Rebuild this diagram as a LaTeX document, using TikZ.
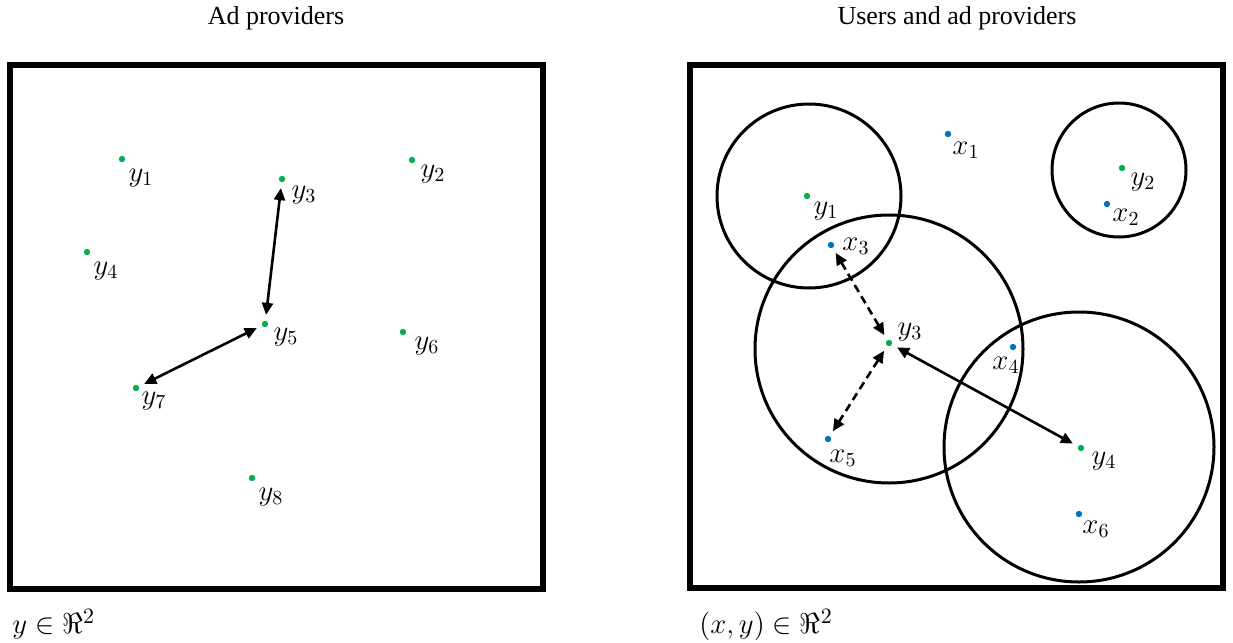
\documentclass[tikz,border=0pt]{standalone}
\usepackage{amsmath,amssymb}
\usepackage{fontspec}
\setmainfont{Liberation Serif}
\usetikzlibrary{arrows.meta, positioning}
\definecolor{provgreen}{RGB}{0,176,80}
\definecolor{userblue}{RGB}{0,112,192}

\begin{document}
\begin{tikzpicture}[x=0.5pt, y=-0.5pt,
    every node/.style={font=\fontsize{13}{15}\selectfont},
    ydot/.style={circle, fill=provgreen, inner sep=0pt, minimum size=3.2pt, outer sep=3pt},
    xdot/.style={circle, fill=userblue, inner sep=0pt, minimum size=3.2pt, outer sep=3pt},
    lbl/.style={inner sep=0pt, font=\fontsize{14}{16}\selectfont},
    boxline/.style={line width=2.6pt},
    reach/.style={line width=1.5pt},
    link/.style={line width=1.3pt, {Triangle[length=6pt,width=5.5pt]}-{Triangle[length=6pt,width=5.5pt]}},
    dlink/.style={link, dash pattern=on 4pt off 2.5pt}]
    \useasboundingbox (0,0) rectangle (1233,643);

    % titles and frames
    \node (tleft) at (276,18) {Ad providers};
    \node (tright) at (957,18) {Users and ad providers};
    \draw[boxline] (10,65) rectangle (543,589);
    \draw[boxline] (690,65) rectangle (1223,588);
    \node[lbl, anchor=west, font=\fontsize{15}{17}\selectfont] (sleft) at (12,624) {$y \in \Re^2$};
    \node[lbl, anchor=west, font=\fontsize{15}{17}\selectfont] (sright) at (699,625) {$(x,y) \in \Re^2$};

    % left: ad providers
    \node[ydot] (a1) at (122,159) {};
    \node[ydot] (a2) at (412,160) {};
    \node[ydot] (a3) at (282,179) {};
    \node[ydot] (a4) at (87,252) {};
    \node[ydot] (a5) at (265,324) {};
    \node[ydot] (a6) at (403,332) {};
    \node[ydot] (a7) at (136,388) {};
    \node[ydot] (a8) at (252,478) {};
    \node[lbl] (la1) at (141,178) {$y_1$};
    \node[lbl] (la2) at (433,174) {$y_2$};
    \node[lbl] (la3) at (304,195) {$y_3$};
    \node[lbl] (la4) at (106,271) {$y_4$};
    \node[lbl] (la5) at (286,337) {$y_5$};
    \node[lbl] (la6) at (427,346) {$y_6$};
    \node[lbl] (la7) at (154,401) {$y_7$};
    \node[lbl] (la8) at (271,497) {$y_8$};
    \draw[link] (a3) -- (a5);
    \draw[link] (a5) -- (a7);

    % right: ranges
    \draw[reach] (809,196) circle (92);
    \draw[reach] (1119,170) circle (67);
    \draw[reach] (889,349) circle (134);
    \draw[reach] (1079,447) circle (135);

    % right: users and ad providers
    \node[ydot] (b1) at (807,196) {};
    \node[ydot] (b2) at (1122,168) {};
    \node[ydot] (b3) at (889,343) {};
    \node[ydot] (b4) at (1081,448) {};
    \node[xdot] (u1) at (948,134) {};
    \node[xdot] (u2) at (1107,204) {};
    \node[xdot] (u3) at (831,245) {};
    \node[xdot] (u4) at (1013,347) {};
    \node[xdot] (u5) at (828,439) {};
    \node[xdot] (u6) at (1079,514) {};
    \node[lbl] (lb1) at (826,211) {$y_1$};
    \node[lbl] (lb2) at (1143,182) {$y_2$};
    \node[lbl] (lb3) at (910,332) {$y_3$};
    \node[lbl] (lb4) at (1104,461) {$y_4$};
    \node[lbl] (lu1) at (966,150) {$x_1$};
    \node[lbl] (lu2) at (1126,217) {$x_2$};
    \node[lbl] (lu3) at (856,246) {$x_3$};
    \node[lbl] (lu4) at (1006,365) {$x_4$};
    \node[lbl] (lu5) at (843,458) {$x_5$};
    \node[lbl] (lu6) at (1096,529) {$x_6$};
    \draw[dlink] (u3) -- (b3);
    \draw[dlink] (b3) -- (u5);
    \draw[link] (b3) -- (b4);
\end{tikzpicture}
\end{document}
